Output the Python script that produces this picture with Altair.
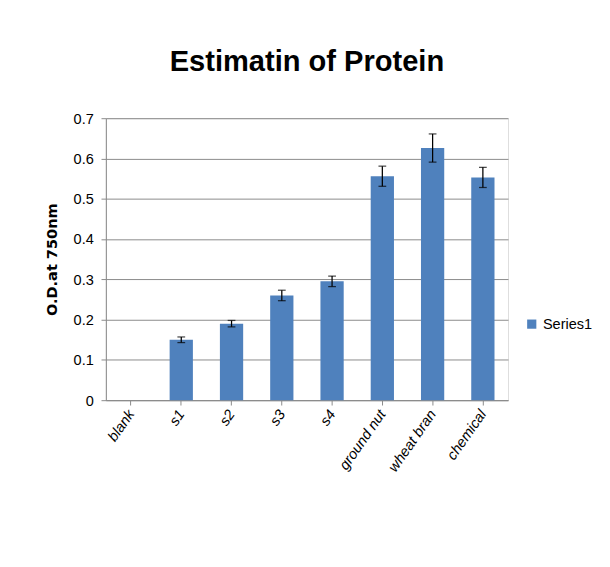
import altair as alt
import pandas as pd

categories = ["blank", "s1", "s2", "s3", "s4", "ground nut", "wheat bran", "chemical"]
values = [0.0, 0.15, 0.19, 0.26, 0.295, 0.556, 0.626, 0.553]
errors = [0.0, 0.007, 0.008, 0.013, 0.013, 0.025, 0.035, 0.025]

df = pd.DataFrame({"cat": categories, "v": values, "e": errors, "s": ["Series1"] * len(values)})
df["lo"] = df.v - df.e
df["hi"] = df.v + df.e

F = "Liberation Sans"
x = alt.X("cat:N", sort=categories, title=None,
          axis=alt.Axis(labelAngle=-55, labelFontStyle="italic", labelFontSize=15,
                        labelFont=F, labelColor="black", ticks=True, grid=False,
                        domainColor="#888", tickColor="#888", labelPadding=6))
y_scale = alt.Scale(domain=[0, 0.7])

bars = alt.Chart(df).mark_bar(color="#4F81BD", width=24).encode(
    x=x,
    y=alt.Y("v:Q", scale=y_scale, title="O.D.at 750nm",
            axis=alt.Axis(values=[0, 0.1, 0.2, 0.3, 0.4, 0.5, 0.6, 0.7], format=".1~f",
                          labelFontSize=15, labelFont=F, labelColor="black", labelPadding=8,
                          titleFontSize=15, titleFont="DejaVu Sans", titleFontWeight="bold",
                          titleColor="black", gridColor="#888", domainColor="#888",
                          tickColor="#888", titlePadding=14)),
    opacity=alt.Opacity("s:N", scale=alt.Scale(range=[1]),
                        legend=alt.Legend(title=None, labelFontSize=15, orient="none",
                                          legendX=432, legendY=205,
                                          labelFont=F, symbolType="square",
                                          symbolFillColor="#4F81BD", symbolStrokeWidth=0,
                                          symbolSize=90, labelColor="black")),
)
err = alt.Chart(df[df.e > 0]).mark_errorbar(ticks=alt.MarkConfig(size=8), color="black", thickness=1.3).encode(
    x=alt.X("cat:N", sort=categories), y=alt.Y("lo:Q", scale=y_scale, title=""), y2="hi:Q")

chart = (bars + err).properties(
    width=415, height=291,
    title=alt.Title("Estimatin of Protein", fontSize=30, font=F,
                    fontWeight="bold", color="black", offset=36, anchor="middle"),
).configure_view(stroke=None).configure(background="white", padding={"left": 38, "top": 33, "right": 10, "bottom": 10})

chart.save("out.html", embed_options={"renderer": "svg", "actions": False})
